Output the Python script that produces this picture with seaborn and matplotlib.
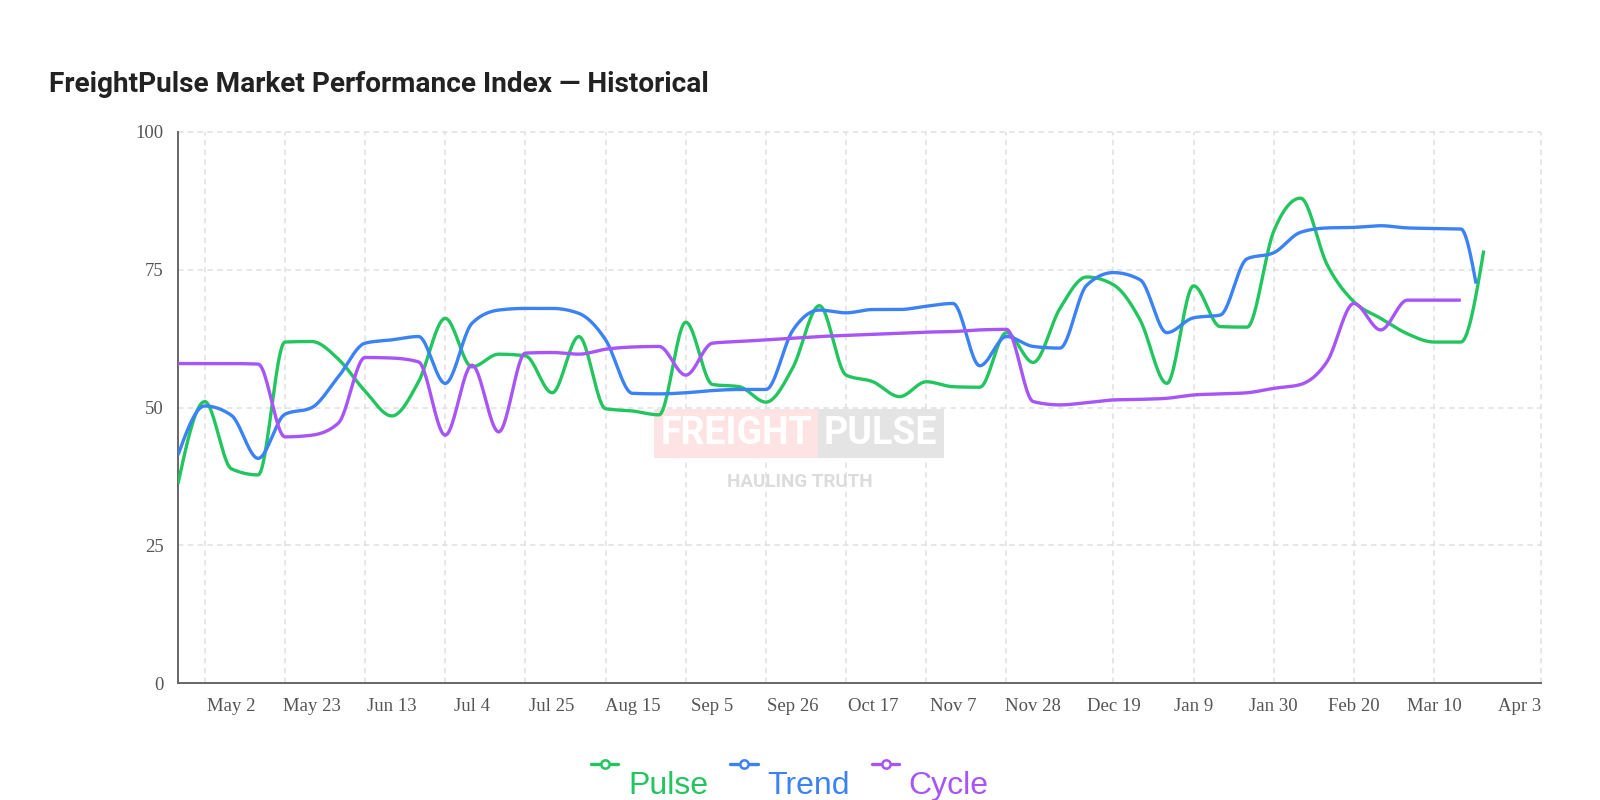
import numpy as np
import pandas as pd
import matplotlib
matplotlib.use("Agg")
import matplotlib.pyplot as plt
from matplotlib.lines import Line2D
from matplotlib.font_manager import fontManager
import seaborn as sns

# ---------------- data ----------------
week_start = "2021-04-18"
n_weeks = 49

pulse = [36.2, 51.1, 38.9, 37.8, 61.9, 62.0, 58.8, 53.0, 48.5, 54.7,
         66.2, 57.4, 59.7, 59.4, 52.7, 62.9, 49.8, 49.4, 48.7, 65.5,
         54.2, 53.8, 51.0, 57.2, 68.5, 55.9, 54.7, 52.0, 54.7, 53.8,
         53.7, 63.6, 58.2, 68.0, 73.7, 72.3, 65.9, 54.4, 72.1, 64.7,
         64.6, 82.0, 88.0, 75.9, 69.2, 66.2, 63.4, 61.9, 61.9]
trend = [41.4, 50.3, 48.6, 40.8, 48.8, 50.0, 55.6, 61.7, 62.3, 62.9,
         54.4, 65.3, 67.7, 68.0, 68.0, 67.1, 62.3, 52.6, 52.5, 52.7,
         53.1, 53.3, 53.3, 64.0, 67.7, 67.2, 67.8, 67.8, 68.4, 68.9,
         57.6, 62.9, 61.1, 60.8, 72.2, 74.5, 73.2, 63.6, 66.3, 66.8,
         77.0, 78.1, 81.8, 82.6, 82.7, 83.0, 82.6, 82.5, 82.4]
cycle = [58.0, 58.0, 58.0, 57.9, 44.7, 45.0, 47.2, 59.1, 59.0, 58.3,
         45.0, 57.7, 45.6, 59.9, 60.0, 59.7, 60.6, 61.0, 61.1, 55.9,
         61.7, 62.0, 62.3, 62.6, 62.9, 63.1, 63.3, 63.5, 63.7, 63.8,
         64.1, 64.2, 51.1, 50.5, 50.9, 51.4, 51.5, 51.7, 52.3, 52.5,
         52.7, 53.5, 54.2, 58.4, 68.9, 64.1, 69.5, 69.5, 69.5]

pulse_last_date, pulse_last = "2022-03-26", 78.5
trend_last_date, trend_last = "2022-03-24", 72.5

series_names = ["Pulse", "Trend", "Cycle"]
series_colors = ["#22c55e", "#3b82f6", "#a855f7"]

tick_dates = ["2021-05-02", "2021-05-23", "2021-06-13", "2021-07-04", "2021-07-25",
              "2021-08-15", "2021-09-05", "2021-09-26", "2021-10-17", "2021-11-07",
              "2021-11-28", "2021-12-19", "2022-01-09", "2022-01-30", "2022-02-20",
              "2022-03-13", "2022-04-10"]
tick_labels = ["May 2", "May 23", "Jun 13", "Jul 4", "Jul 25", "Aug 15", "Sep 5",
               "Sep 26", "Oct 17", "Nov 7", "Nov 28", "Dec 19", "Jan 9", "Jan 30",
               "Feb 20", "Mar 10", "Apr 3"]
grid_dates = ["2021-04-25", "2021-05-16", "2021-06-06", "2021-06-27", "2021-07-18",
              "2021-08-08", "2021-08-29", "2021-09-19", "2021-10-10", "2021-10-31",
              "2021-11-21", "2021-12-19", "2022-01-09", "2022-01-30", "2022-02-20",
              "2022-03-13", "2022-04-10"]
y_ticks = [0, 25, 50, 75, 100]
x_range = ("2021-04-18", "2022-04-10")

title = "FreightPulse Market Performance Index \u2014 Historical"

# ---------------- helpers ----------------
start = pd.Timestamp(week_start)
weeks = pd.date_range(week_start, periods=n_weeks, freq="7D")


def monotone_curve(dates, values, per_seg=24):
    """Render helper: d3-style monotone-X curve through the data points."""
    xs = ((pd.to_datetime(dates) - start) / pd.Timedelta(days=1)).to_numpy(float)
    ys = np.asarray(values, float)
    n = len(xs)
    h = np.diff(xs)
    s = np.diff(ys) / h
    m = np.zeros(n)
    for i in range(1, n - 1):
        h0, h1, s0, s1 = h[i - 1], h[i], s[i - 1], s[i]
        p = (s0 * h1 + s1 * h0) / (h0 + h1)
        m[i] = (np.sign(s0) + np.sign(s1)) * min(abs(s0), abs(s1), 0.5 * abs(p))
    m[0] = (3 * s[0] - m[1]) / 2
    m[-1] = (3 * s[-1] - m[-2]) / 2
    out_x, out_y = [], []
    t = np.linspace(0, 1, per_seg, endpoint=False)
    for i in range(n - 1):
        hh = h[i]
        h00 = 2 * t**3 - 3 * t**2 + 1
        h10 = t**3 - 2 * t**2 + t
        h01 = -2 * t**3 + 3 * t**2
        h11 = t**3 - t**2
        out_x.append(xs[i] + t * hh)
        out_y.append(h00 * ys[i] + h10 * hh * m[i] + h01 * ys[i + 1] + h11 * hh * m[i + 1])
    out_x.append([xs[-1]])
    out_y.append([ys[-1]])
    dx = np.concatenate(out_x)
    dy = np.concatenate(out_y)
    return start + pd.to_timedelta(dx, unit="D"), dy


series_dates = [
    list(weeks) + [pd.Timestamp(pulse_last_date)],
    list(weeks) + [pd.Timestamp(trend_last_date)],
    list(weeks),
]
series_values = [pulse + [pulse_last], trend + [trend_last], cycle]

frames = []
for name, d, v in zip(series_names, series_dates, series_values):
    cx, cy = monotone_curve(d, v)
    frames.append(pd.DataFrame({"date": cx, "value": cy, "series": name}))
df = pd.concat(frames, ignore_index=True)

# ---------------- figure ----------------
sns.set_theme(style="white")
plt.rcParams["font.family"] = ["Liberation Sans", "DejaVu Sans"]

fig = plt.figure(figsize=(16, 8), dpi=100)
fig.patch.set_facecolor("white")
ax = fig.add_axes([178 / 1600, 1 - 683.3 / 800, (1541 - 178) / 1600, (683.3 - 132) / 800])
ax.set_facecolor("white")

grid_kw = dict(color="#e0e0e0", linewidth=1.1, linestyle=(0, (3.6, 2.8)), zorder=0.5)
for gd in grid_dates:
    ax.axvline(pd.Timestamp(gd), clip_on=False, **grid_kw)
for yv in y_ticks[1:]:
    ax.axhline(yv, clip_on=False, **grid_kw)

sns.lineplot(data=df, x="date", y="value", hue="series", hue_order=series_names,
             palette=dict(zip(series_names, series_colors)), estimator=None,
             sort=False, linewidth=2.4, legend=False, ax=ax, zorder=3,
             solid_capstyle="butt")

ax.set_xlim(pd.Timestamp(x_range[0]), pd.Timestamp(x_range[1]))
ax.set_ylim(0, 100)
ax.set_xlabel("")
ax.set_ylabel("")
ax.set_yticks(y_ticks)
ax.set_yticklabels([str(v) for v in y_ticks])
ax.set_xticks(pd.to_datetime(tick_dates))
ax.set_xticklabels(tick_labels)
xl = ax.get_xticklabels()
xl[-1].set_horizontalalignment("right")

for side in ["top", "right"]:
    ax.spines[side].set_visible(False)
for side in ["left", "bottom"]:
    ax.spines[side].set_color("#666666")
    ax.spines[side].set_linewidth(1.4)
ax.tick_params(axis="both", direction="out", length=7.5, width=1.4, color="#666666",
               labelcolor="#555555", labelsize=13.5, pad=3)
for lab in ax.get_xticklabels() + ax.get_yticklabels():
    lab.set_family(["Liberation Serif", "DejaVu Serif"])

# title
fig.text(49 / 1600, 1 - 84 / 800, title, ha="left", va="center", fontsize=20.2,
         fontweight="bold", color="#222222", family=["Roboto", "DejaVu Sans"])

# watermark
have_narrow = any(f.name == "Liberation Sans Narrow" for f in fontManager.ttflist)
wm_family = ["Liberation Sans Narrow", "DejaVu Sans"] if have_narrow else ["Roboto", "DejaVu Sans"]
wm_size = 30 if have_narrow else 27
wm_pad = 0.16
pad_px = wm_pad * wm_size * 100 / 72
ax.text((818 - pad_px) / 1600, 1 - 433.5 / 800, "FREIGHT", transform=fig.transFigure, ha="right",
        va="center", fontsize=wm_size, fontweight="bold", color="white", family=wm_family,
        zorder=1, bbox=dict(boxstyle=f"square,pad={wm_pad}", fc="#fde3e3", ec="none"))
ax.text((818 + pad_px) / 1600, 1 - 433.5 / 800, "PULSE", transform=fig.transFigure, ha="left",
        va="center", fontsize=wm_size, fontweight="bold", color="white", family=wm_family,
        zorder=1, bbox=dict(boxstyle=f"square,pad={wm_pad}", fc="#e4e4e4", ec="none"))
ax.text(800 / 1600, 1 - 482 / 800, "HAULING TRUTH", transform=fig.transFigure, ha="center",
        va="center", fontsize=wm_size * 0.5, fontweight="bold", color="#dcdcdc",
        family=wm_family, zorder=1)

# legend
handles = [Line2D([0], [0], color=c, lw=2.4, marker="o", markersize=6,
                  markerfacecolor="white", markeredgewidth=1.8, markeredgecolor=c)
           for c in series_colors]
leg = fig.legend(handles, series_names, loc="center", bbox_to_anchor=(790 / 1600, 1 - 767 / 800),
                 ncol=3, frameon=False, fontsize=23, handlelength=0.85, handletextpad=0.3,
                 columnspacing=0.7, borderpad=0, labelcolor=series_colors)
for t in leg.get_texts():
    t.set_y(-19)

fig.savefig("out.png", dpi=100, facecolor="white")
